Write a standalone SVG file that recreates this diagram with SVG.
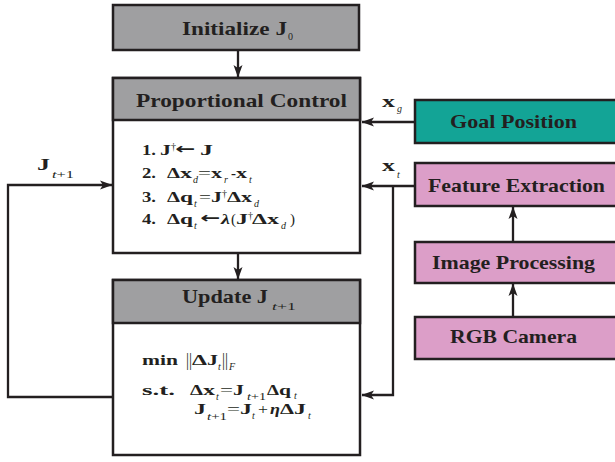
<svg xmlns="http://www.w3.org/2000/svg" width="615" height="462" viewBox="0 0 615 462">
<defs>
<marker id="arr" markerWidth="13" markerHeight="10" refX="12" refY="5" orient="auto" markerUnits="userSpaceOnUse">
<path d="M0,0.5 L12.5,5 L0,9.5 L3,5 Z" fill="#231f20"/>
</marker>
<style>
.box{stroke:#231f20;stroke-width:2.5}
.gray{fill:#9f9fa1}
.white{fill:#ffffff}
.teal{fill:#13a496}
.pink{fill:#dc9ec8}
.ln{fill:none;stroke:#231f20;stroke-width:2.3}
text{font-family:"Liberation Serif","Times New Roman",serif;fill:#231f20}
.t{font-size:19px;font-weight:bold}
.b{font-size:15.5px;font-weight:bold}
.n{font-size:15.5px;font-weight:normal}
.v{font-size:18px;font-weight:normal}
.a{font-family:"DejaVu Sans",sans-serif;font-size:15px;font-weight:bold}
.s{font-size:10px;font-style:italic;font-weight:normal}
.u{font-size:10px;font-weight:normal}
.l{font-size:16px;font-weight:bold}
</style>
</defs>

<g id="connectors">
<path class="ln" d="M238,50 V77" marker-end="url(#arr)"/>
<path class="ln" d="M238,253 V279" marker-end="url(#arr)"/>
<path class="ln" d="M415,122 H362" marker-end="url(#arr)"/>
<path class="ln" d="M415,186 H362" marker-end="url(#arr)"/>
<path class="ln" d="M393,186 V395 H362" marker-end="url(#arr)"/>
<path class="ln" d="M513,242 V207" marker-end="url(#arr)"/>
<path class="ln" d="M513,317 V284" marker-end="url(#arr)"/>
<path class="ln" d="M113,397 H8 V185 H112" marker-end="url(#arr)"/>
<text class="l" x="37" y="170" textLength="13" lengthAdjust="spacingAndGlyphs">J</text>
<text class="u" x="52" y="178" textLength="22" lengthAdjust="spacingAndGlyphs"><tspan font-style="italic">t</tspan>+1</text>
<text class="l" x="382" y="107" textLength="13" lengthAdjust="spacingAndGlyphs">x</text>
<text class="s" x="397" y="112">g</text>
<text class="l" x="382" y="171" textLength="13" lengthAdjust="spacingAndGlyphs">x</text>
<text class="s" x="397" y="178">t</text>
</g>

<g id="init">
<rect class="box gray" x="113" y="5" width="246" height="45"/>
<text class="t" x="182" y="35" textLength="105" lengthAdjust="spacingAndGlyphs">Initialize J</text>
<text class="u" x="288" y="40">0</text>
</g>

<g id="proportional">
<rect class="box white" x="113" y="78" width="247" height="175"/>
<rect class="box gray" x="113" y="78" width="247" height="42"/>
<text class="t" x="136" y="107" textLength="211" lengthAdjust="spacingAndGlyphs">Proportional Control</text>
<text class="b" x="142" y="155" textLength="14" lengthAdjust="spacingAndGlyphs">1.</text>
<text class="b" x="160" y="155" textLength="11" lengthAdjust="spacingAndGlyphs">J</text>
<text class="u" x="171" y="150">†</text>
<text class="a" x="175" y="154" textLength="20" lengthAdjust="spacingAndGlyphs">←</text>
<text class="b" x="200" y="155" textLength="13" lengthAdjust="spacingAndGlyphs">J</text>

<text class="b" x="142" y="178" textLength="14" lengthAdjust="spacingAndGlyphs">2.</text>
<text class="b" x="167" y="178" textLength="13" lengthAdjust="spacingAndGlyphs">Δ</text>
<text class="b" x="180" y="178" textLength="12" lengthAdjust="spacingAndGlyphs">x</text>
<text class="s" x="193" y="183">d</text>
<text class="n" x="198" y="178" textLength="13" lengthAdjust="spacingAndGlyphs">=</text>
<text class="b" x="211" y="178" textLength="11" lengthAdjust="spacingAndGlyphs">x</text>
<text class="s" x="224" y="183">r</text>
<text class="b" x="231" y="178" textLength="5" lengthAdjust="spacingAndGlyphs">-</text>
<text class="b" x="236" y="178" textLength="11" lengthAdjust="spacingAndGlyphs">x</text>
<text class="s" x="249" y="183">t</text>

<text class="b" x="142" y="202" textLength="14" lengthAdjust="spacingAndGlyphs">3.</text>
<text class="b" x="167" y="202" textLength="13" lengthAdjust="spacingAndGlyphs">Δ</text>
<text class="b" x="180" y="202" textLength="13" lengthAdjust="spacingAndGlyphs">q</text>
<text class="s" x="194" y="207">t</text>
<text class="n" x="199" y="202" textLength="12" lengthAdjust="spacingAndGlyphs">=</text>
<text class="b" x="211" y="202" textLength="11" lengthAdjust="spacingAndGlyphs">J</text>
<text class="u" x="222" y="197">†</text>
<text class="b" x="227" y="202" textLength="14" lengthAdjust="spacingAndGlyphs">Δ</text>
<text class="b" x="241" y="202" textLength="11" lengthAdjust="spacingAndGlyphs">x</text>
<text class="s" x="254" y="207">d</text>

<text class="b" x="142" y="224" textLength="14" lengthAdjust="spacingAndGlyphs">4.</text>
<text class="b" x="167" y="224" textLength="13" lengthAdjust="spacingAndGlyphs">Δ</text>
<text class="b" x="180" y="224" textLength="13" lengthAdjust="spacingAndGlyphs">q</text>
<text class="s" x="194" y="229">t</text>
<text class="a" x="200" y="223" textLength="20" lengthAdjust="spacingAndGlyphs">←</text>
<text class="b" x="221" y="224" font-style="italic" textLength="9" lengthAdjust="spacingAndGlyphs">λ</text>
<text class="n" x="231" y="224" textLength="5" lengthAdjust="spacingAndGlyphs">(</text>
<text class="b" x="236" y="224" textLength="12" lengthAdjust="spacingAndGlyphs">J</text>
<text class="u" x="248" y="219">†</text>
<text class="b" x="252" y="224" textLength="15" lengthAdjust="spacingAndGlyphs">Δ</text>
<text class="b" x="267" y="224" textLength="12" lengthAdjust="spacingAndGlyphs">x</text>
<text class="s" x="281" y="229">d</text>
<text class="n" x="290" y="224" textLength="5" lengthAdjust="spacingAndGlyphs">)</text>
</g>

<g id="update">
<rect class="box white" x="113" y="280" width="247" height="175"/>
<rect class="box gray" x="113" y="280" width="247" height="43"/>
<text class="t" x="182" y="303" textLength="86" lengthAdjust="spacingAndGlyphs">Update J</text>
<text class="u" x="272" y="310" textLength="24" lengthAdjust="spacingAndGlyphs"><tspan font-style="italic">t</tspan>+1</text>

<text class="b" x="142" y="365" textLength="36" lengthAdjust="spacingAndGlyphs">min</text>
<text class="v" x="186" y="366" textLength="6" lengthAdjust="spacingAndGlyphs">||</text>
<text class="b" x="192" y="365" textLength="15" lengthAdjust="spacingAndGlyphs">Δ</text>
<text class="b" x="207" y="365" textLength="11" lengthAdjust="spacingAndGlyphs">J</text>
<text class="s" x="218" y="370">t</text>
<text class="v" x="222" y="366" textLength="6" lengthAdjust="spacingAndGlyphs">||</text>
<text class="s" x="229" y="370" font-weight="bold">F</text>

<text class="b" x="142" y="395" textLength="33" lengthAdjust="spacingAndGlyphs">s.t.</text>
<text class="b" x="190" y="395" textLength="13" lengthAdjust="spacingAndGlyphs">Δ</text>
<text class="b" x="203" y="395" textLength="12" lengthAdjust="spacingAndGlyphs">x</text>
<text class="s" x="216" y="400">t</text>
<text class="n" x="220" y="395" textLength="13" lengthAdjust="spacingAndGlyphs">=</text>
<text class="b" x="233" y="395" textLength="11" lengthAdjust="spacingAndGlyphs">J</text>
<text class="u" x="247" y="400" textLength="19" lengthAdjust="spacingAndGlyphs"><tspan font-style="italic">t</tspan>+1</text>
<text class="b" x="267" y="395" textLength="12" lengthAdjust="spacingAndGlyphs">Δ</text>
<text class="b" x="279" y="395" textLength="12" lengthAdjust="spacingAndGlyphs">q</text>
<text class="s" x="294" y="399">t</text>

<text class="b" x="194" y="414" textLength="12" lengthAdjust="spacingAndGlyphs">J</text>
<text class="u" x="207" y="420" textLength="20" lengthAdjust="spacingAndGlyphs"><tspan font-style="italic">t</tspan>+1</text>
<text class="n" x="227" y="414" textLength="13" lengthAdjust="spacingAndGlyphs">=</text>
<text class="b" x="240" y="414" textLength="12" lengthAdjust="spacingAndGlyphs">J</text>
<text class="s" x="252" y="419">t</text>
<text class="n" x="258" y="414" textLength="10" lengthAdjust="spacingAndGlyphs">+</text>
<text class="b" x="270" y="414" font-style="italic" textLength="10" lengthAdjust="spacingAndGlyphs">η</text>
<text class="b" x="280" y="414" textLength="14" lengthAdjust="spacingAndGlyphs">Δ</text>
<text class="b" x="294" y="414" textLength="12" lengthAdjust="spacingAndGlyphs">J</text>
<text class="s" x="308" y="419">t</text>
</g>

<g id="goal">
<rect class="box teal" x="415" y="100" width="210" height="43"/>
<text class="t" x="450" y="128" textLength="127" lengthAdjust="spacingAndGlyphs">Goal Position</text>
</g>

<g id="feature">
<rect class="box pink" x="415" y="163" width="210" height="43"/>
<text class="t" x="428" y="192" textLength="177" lengthAdjust="spacingAndGlyphs">Feature Extraction</text>
</g>

<g id="image">
<rect class="box pink" x="415" y="242" width="210" height="41"/>
<text class="t" x="432" y="269" textLength="163" lengthAdjust="spacingAndGlyphs">Image Processing</text>
</g>

<g id="camera">
<rect class="box pink" x="415" y="317" width="210" height="42"/>
<text class="t" x="450" y="343" textLength="127" lengthAdjust="spacingAndGlyphs">RGB Camera</text>
</g>
</svg>
